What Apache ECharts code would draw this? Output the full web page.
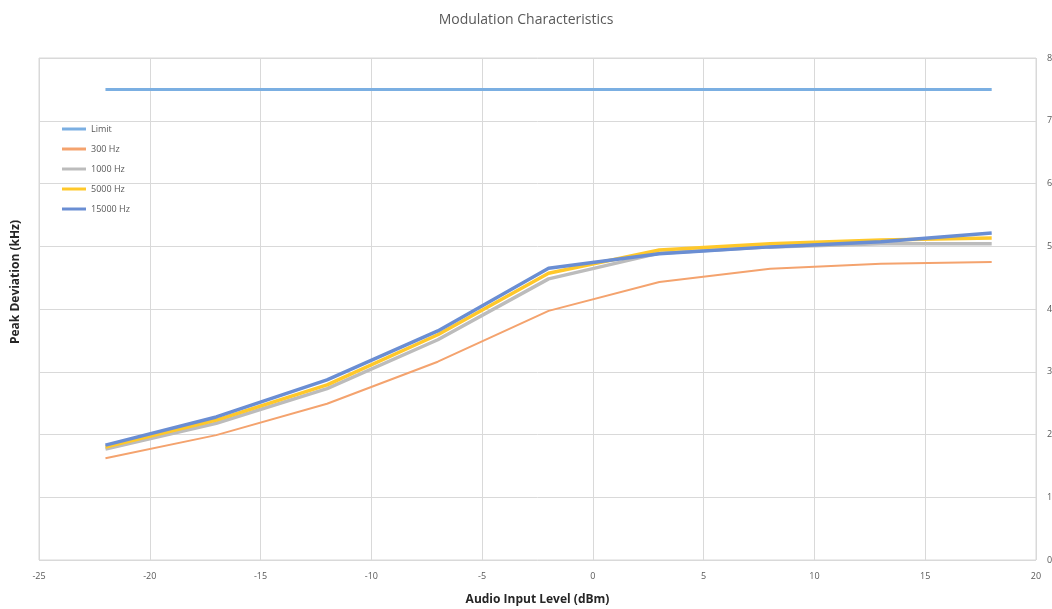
<!DOCTYPE html>
<html>
<head>
<meta charset="utf-8">
<script src="https://cdn.jsdelivr.net/npm/echarts@6/dist/echarts.min.js"></script>
<style>html,body{margin:0;padding:0;background:#fff}#c{width:1052px;height:609px}</style>
</head>
<body>
<div id="c"></div>
<script>
const xLevels = [-22, -17, -12, -7, -2, 3, 8, 13, 18];
const limit = [7.5, 7.5, 7.5, 7.5, 7.5, 7.5, 7.5, 7.5, 7.5];
const hz300 = [1.62, 1.99, 2.49, 3.16, 3.97, 4.43, 4.64, 4.72, 4.75];
const hz1000 = [1.77, 2.18, 2.73, 3.51, 4.48, 4.89, 4.99, 5.04, 5.04];
const hz5000 = [1.80, 2.23, 2.79, 3.59, 4.57, 4.94, 5.04, 5.10, 5.13];
const hz15000 = [1.83, 2.28, 2.87, 3.65, 4.65, 4.88, 4.99, 5.07, 5.21];
const seriesNames = ['Limit', '300 Hz', '1000 Hz', '5000 Hz', '15000 Hz'];

const pair = arr => xLevels.map((x, i) => [x, arr[i]]);
const colors = ['#7BAFE2', '#F4A36E', '#BCBCBC', '#FFC82A', '#6A8ED3'];
const widths = [3, 2, 3.5, 3.5, 3.5];
const datas = [limit, hz300, hz1000, hz5000, hz15000];

const chart = echarts.init(document.getElementById('c'));
chart.setOption({
  animation: false,
  title: {
    text: 'Modulation Characteristics', left: 'center', top: 8,
    textStyle: {fontFamily: 'Open Sans', fontSize: 14, fontWeight: 'normal', color: '#595959'}
  },
  grid: {left: 39, right: 16, top: 58, bottom: 49, show: true, borderColor: '#d9d9d9', borderWidth: 1,
         containLabel: false, outerBoundsMode: 'none'},
  legend: {
    orient: 'vertical', left: 57, top: 118, itemWidth: 24, itemHeight: 3, itemGap: 8,
    icon: 'rect', data: seriesNames,
    textStyle: {fontFamily: 'Open Sans', fontSize: 9, color: '#595959', lineHeight: 12}
  },
  graphic: [{
    type: 'text', x: 16, y: 282, rotation: Math.PI / 2,
    style: {text: 'Peak Deviation (kHz)', font: 'bold 12px "Open Sans"', fill: '#262626',
            align: 'center', verticalAlign: 'middle', textAlign: 'center', textVerticalAlign: 'middle'}
  }],
  xAxis: {
    type: 'value', min: -25, max: 20, interval: 5,
    name: 'Audio Input Level (dBm)', nameLocation: 'middle', nameGap: 34,
    nameTextStyle: {fontFamily: 'Open Sans', fontSize: 12, fontWeight: 'bold', color: '#262626'},
    axisLine: {show: false}, axisTick: {show: false},
    axisLabel: {fontFamily: 'Open Sans', fontSize: 9, color: '#595959', margin: 12},
    splitLine: {lineStyle: {color: '#d9d9d9'}}
  },
  yAxis: {
    type: 'value', min: 0, max: 8, interval: 1, position: 'right',
    axisLine: {show: false}, axisTick: {show: false},
    axisLabel: {fontFamily: 'Open Sans', fontSize: 9, color: '#595959', margin: 11},
    splitLine: {lineStyle: {color: '#d9d9d9'}}
  },
  series: datas.map((d, i) => ({
    name: seriesNames[i], type: 'line', data: pair(d), showSymbol: false, symbol: 'none',
    lineStyle: {color: colors[i], width: widths[i]}, itemStyle: {color: colors[i]}, z: 2 + i
  }))
});
</script>
</body>
</html>
